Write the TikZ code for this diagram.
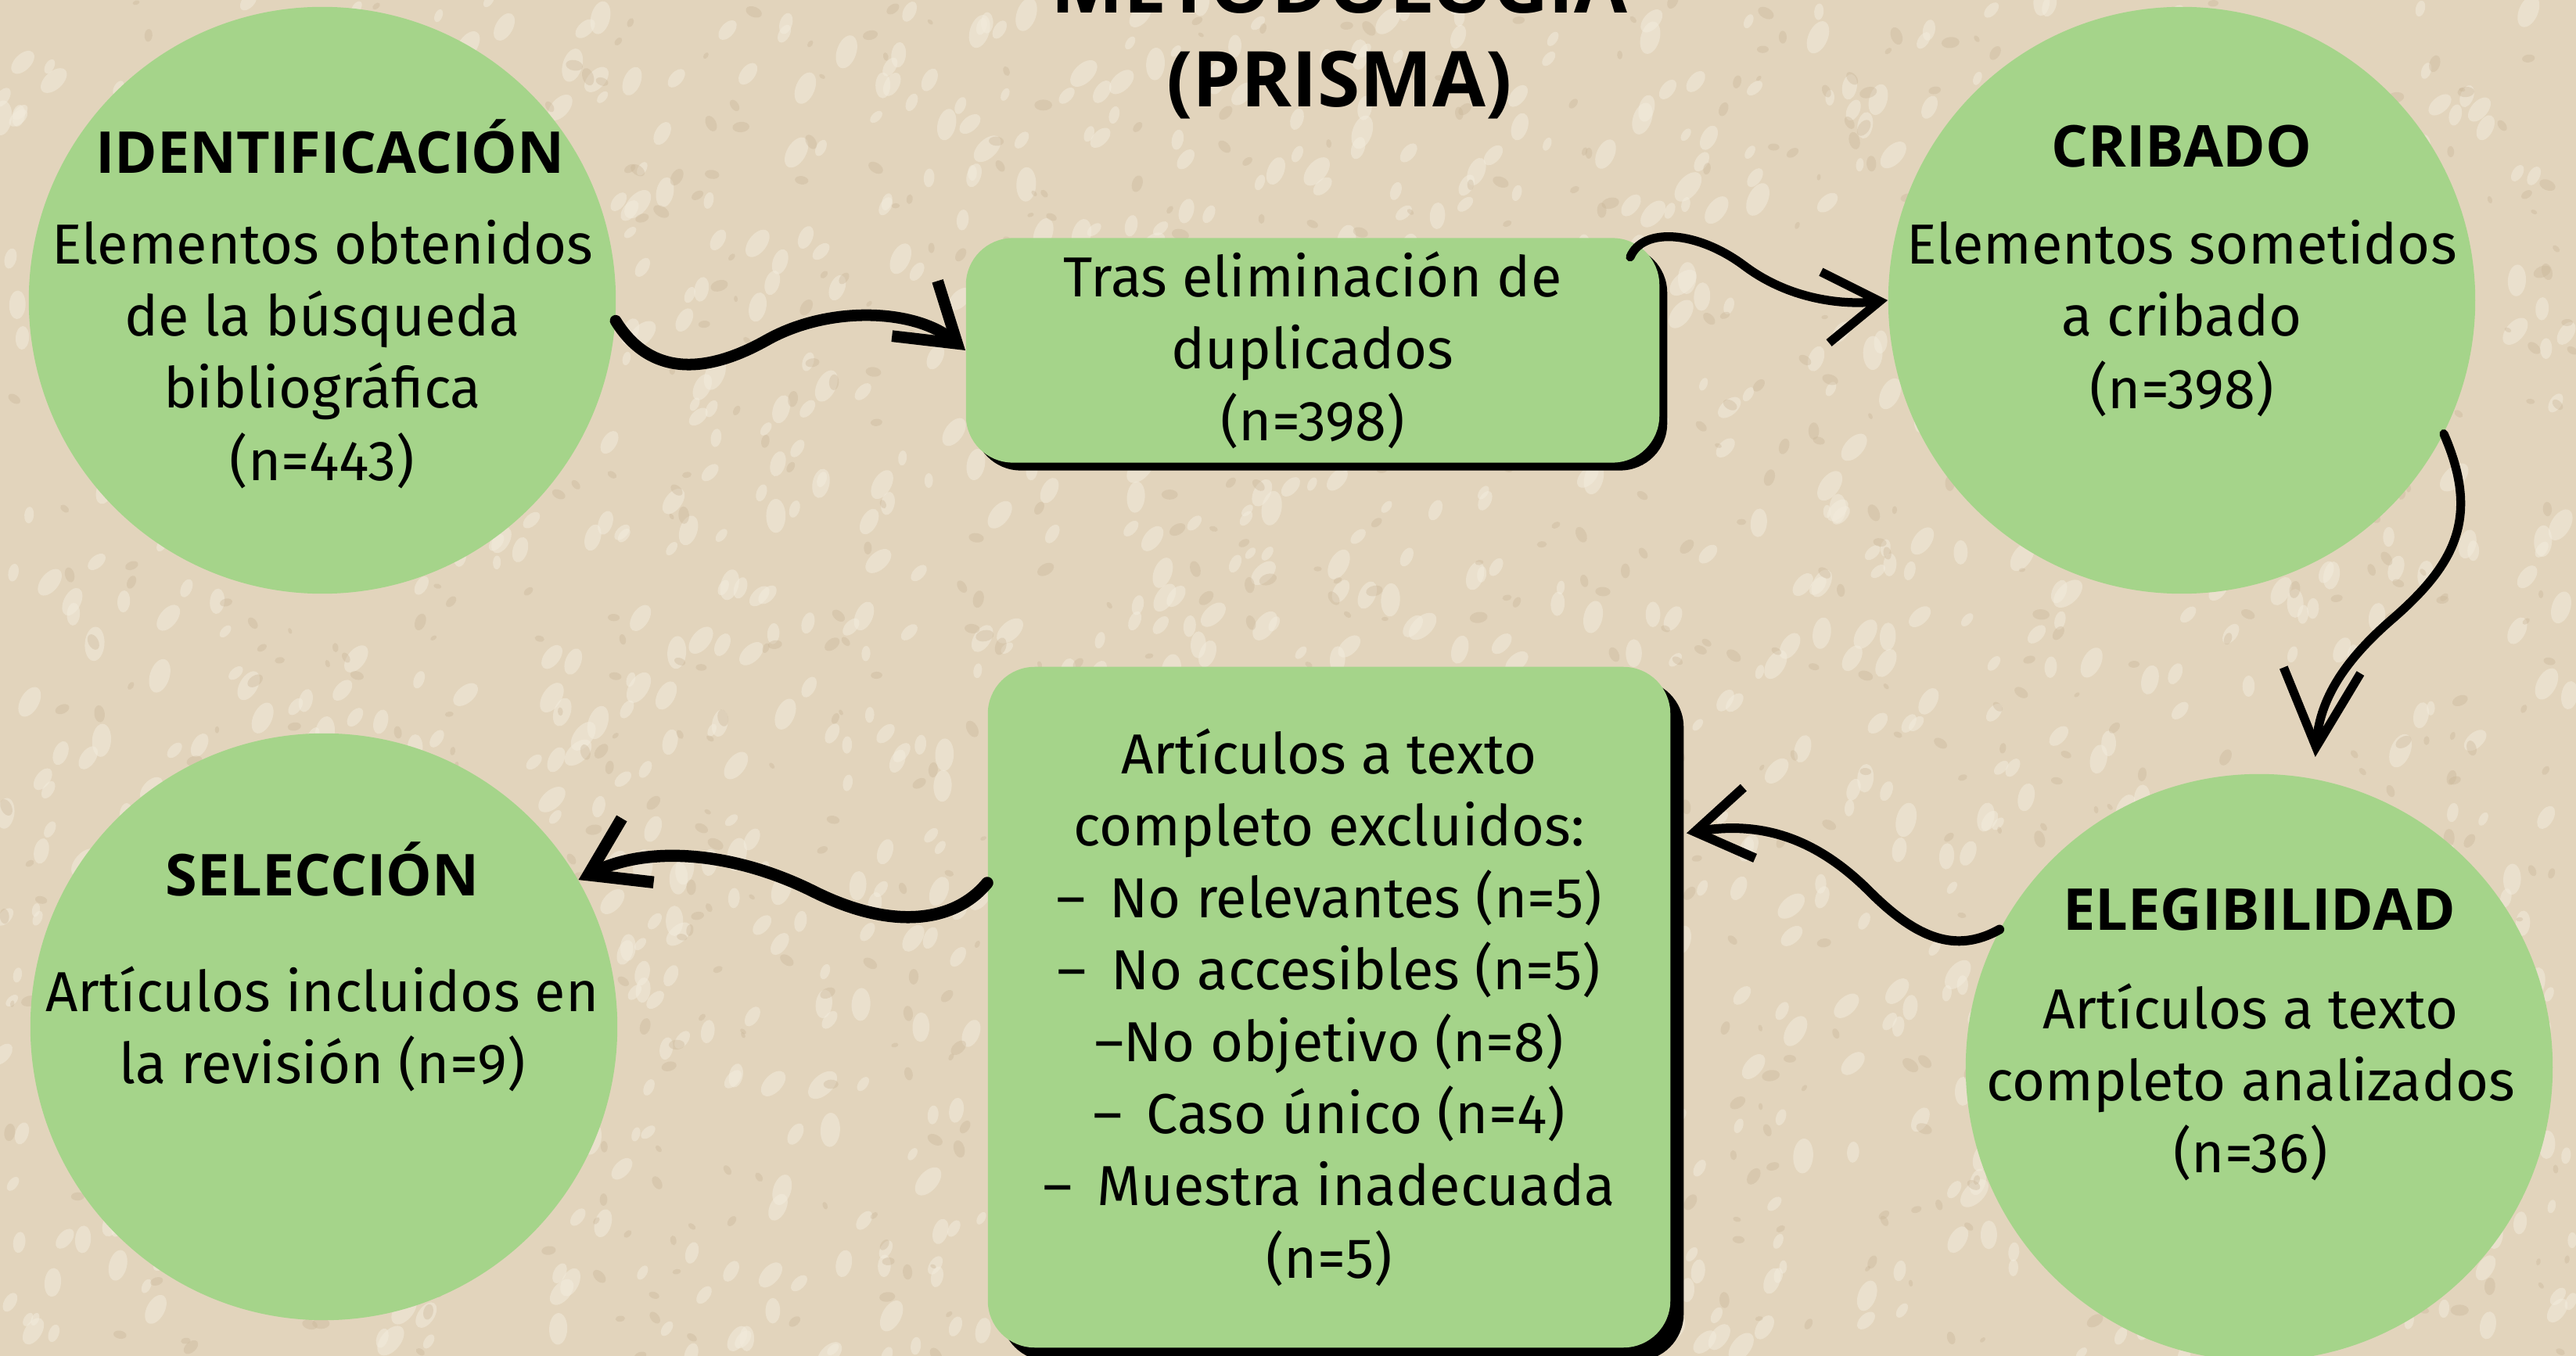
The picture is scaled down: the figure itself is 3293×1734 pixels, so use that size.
\documentclass[tikz,border=0pt]{standalone}
\usepackage{fontspec}
\setmainfont{Fira Sans}
\newfontfamily\headfont{Open Sans}
\usetikzlibrary{arrows.meta,shadows,positioning}
\definecolor{arena}{RGB}{226,212,188}
\definecolor{arenaclara}{RGB}{242,235,220}
\definecolor{arenaoscura}{RGB}{200,180,150}
\definecolor{verde}{RGB}{165,212,138}

\begin{document}
\begin{tikzpicture}[x=0.01cm,y=-0.01cm]
  \tikzstyle{etapa} = [circle, fill=verde, minimum size=7.5cm, inner sep=0pt]
  \tikzstyle{caja} = [rounded corners=0.6cm, fill=verde, align=center, inner sep=0pt,
    font=\fontsize{20.5}{26.2}\selectfont]
  \tikzstyle{cabecera} = [font=\headfont\bfseries\fontsize{21}{26}\selectfont]
  \tikzstyle{texto} = [align=center, font=\fontsize{20.5}{26.2}\selectfont]
  \tikzstyle{flecha} = [line cap=round, -{Straight Barb[length=20pt,width=26pt]}]

  \useasboundingbox (0,0) rectangle (3293,1734);
  \fill[arena] (0,0) rectangle (3293,1734);
  % grano de arena
  \pgfmathsetseed{7}
  \foreach \i in {1,...,1400}{
    \pgfmathsetmacro{\px}{rnd*3293}
    \pgfmathsetmacro{\py}{rnd*1734}
    \pgfmathsetmacro{\gr}{6+rnd*10}
    \pgfmathsetmacro{\rot}{40+rnd*50}
    \fill[arenaclara, opacity=.55, rotate around={\rot:(\px,\py)}] (\px,\py) ellipse (\gr*1.4 and \gr*0.8);
  }
  \foreach \i in {1,...,900}{
    \pgfmathsetmacro{\px}{rnd*3293}
    \pgfmathsetmacro{\py}{rnd*1734}
    \pgfmathsetmacro{\gr}{3+rnd*6}
    \pgfmathsetmacro{\rot}{rnd*180}
    \fill[arenaoscura, opacity=.35, rotate around={\rot:(\px,\py)}] (\px,\py) ellipse (\gr*1.3 and \gr*0.8);
  }

  % titulo
  \node[cabecera, font=\headfont\bfseries\fontsize{28}{34}\selectfont, anchor=base] (metodo) at (1712,17) {METODOLOGÍA};
  \node[cabecera, font=\headfont\bfseries\fontsize{28}{34}\selectfont, anchor=base] (prisma) at (1712,137) {(PRISMA)};

  % etapas
  \node[etapa] (ident) at (412,384) {};
  \node[etapa] (crib) at (2789,384) {};
  \node[etapa] (selec) at (414,1313) {};
  \node[etapa] (elig) at (2888,1365) {};

  \node[cabecera] (identtit) at (422,187) {IDENTIFICACIÓN};
  \node[texto] (identtxt) at (412,453) {Elementos obtenidos\\de la búsqueda\\bibliográfica\\(n=443)};
  \node[cabecera] (cribtit) at (2789,187) {CRIBADO};
  \node[texto] (cribtxt) at (2789,407) {Elementos sometidos\\a cribado\\(n=398)};
  \node[cabecera] (selectit) at (412,1111) {SELECCIÓN};
  \node[texto] (selectxt) at (412,1316) {Artículos incluidos en\\la revisión (n=9)};
  \node[cabecera] (eligtit) at (2888,1163) {ELEGIBILIDAD};
  \node[texto] (eligtxt) at (2877,1384) {Artículos a texto\\completo analizados\\(n=36)};

  % cajas
  \node[caja, minimum width=8.86cm, minimum height=2.87cm,
    drop shadow={shadow xshift=0.1cm, shadow yshift=-0.1cm, fill=black, opacity=1}]
    (dup) at (1678,448) {Tras eliminación de\\duplicados\\(n=398)};
  \node[caja, minimum width=8.72cm, minimum height=8.7cm,
    drop shadow={shadow xshift=0.17cm, shadow yshift=-0.17cm, fill=black, opacity=1}]
    (excl) at (1699,1288) {Artículos a texto\\completo excluidos:\\–\, No relevantes (n=5)\\–\, No accesibles (n=5)\\–No objetivo (n=8)\\–\, Caso único (n=4)\\–\, Muestra inadecuada\\(n=5)};

  % flechas
  \draw[flecha, line width=4.2pt] (ident.-4) .. controls (830,480) and (900,480) .. (980,435)
    .. controls (1060,390) and (1170,395) .. (dup.west);
  \draw[flecha, line width=3.2pt] ([shift={(-38,25)}]dup.north east) .. controls (2100,290) and (2170,295) .. (2230,340)
    .. controls (2290,385) and (2360,390) .. (crib.west);
  \draw[flecha, line width=3.2pt, -{Straight Barb[length=28pt,width=28pt]}] (crib.-27) .. controls (3170,660) and (3140,720) .. (3060,790)
    .. controls (2990,850) and (2965,900) .. ([yshift=0.28cm]elig.79);
  \draw[flecha, line width=3.4pt] (elig.152) .. controls (2500,1220) and (2450,1200) .. (2390,1140)
    .. controls (2320,1070) and (2250,1050) .. ([xshift=0.2cm]excl.27);
  \draw[flecha, line width=4.4pt] (excl.160) .. controls (1220,1180) and (1140,1190) .. (1040,1140)
    .. controls (940,1090) and (830,1080) .. (selec.30);
\end{tikzpicture}
\end{document}
